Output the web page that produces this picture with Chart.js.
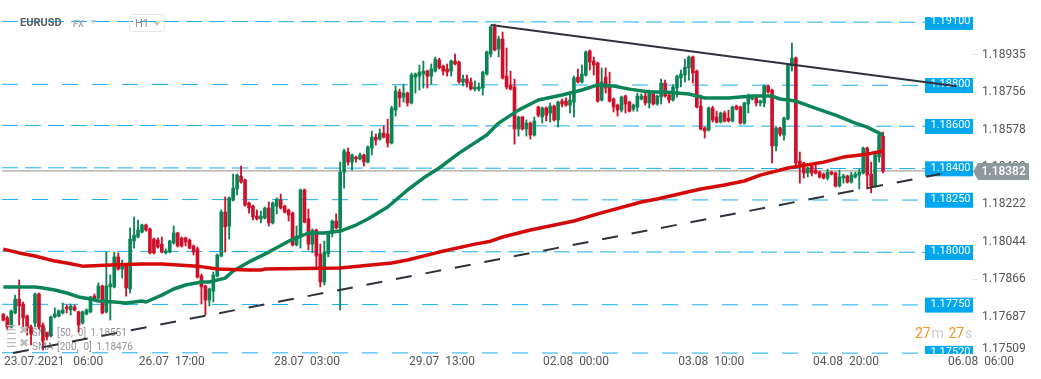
<!DOCTYPE html>
<html>
<head>
<meta charset="utf-8">
<title>EURUSD H1</title>
<script src="https://cdn.jsdelivr.net/npm/chart.js@4/dist/chart.umd.min.js"></script>
<style>
  html, body { margin: 0; padding: 0; background: #fff; }
  canvas { display: block; }
</style>
</head>
<body>
<canvas id="chart" width="1041" height="379"></canvas>
<script>
// hourly candles, left to right
const opens = [
  1.17700,1.17681,1.17638,1.17705,1.17771,1.17747,1.17690,1.17638,1.17657,1.17795,
  1.17647,1.17609,1.17595,1.17686,1.17690,1.17705,1.17733,1.17719,1.17733,1.17710,
  1.17657,1.17700,1.17710,1.17785,1.17776,1.17833,1.17710,1.17829,1.17829,1.17972,
  1.17914,1.17928,1.17819,1.18048,1.18067,1.18090,1.18124,1.18105,1.18057,1.18052,
  1.18033,1.17991,1.17995,1.18038,1.18086,1.18062,1.18062,1.18052,1.18024,1.18010,
  1.17881,1.17833,1.17766,1.17809,1.17881,1.17976,1.18186,1.18119,1.18243,1.18296,
  1.18357,1.18339,1.18229,1.18214,1.18167,1.18153,1.18157,1.18205,1.18134,1.18214,
  1.18243,1.18214,1.18196,1.18181,1.18029,1.18067,1.18291,1.18153,1.18033,1.18100,
  1.17986,1.17852,1.17986,1.18086,1.18143,1.18110,1.18376,1.18472,1.18424,1.18448,
  1.18439,1.18458,1.18424,1.18491,1.18543,1.18534,1.18562,1.18558,1.18515,1.18672,
  1.18758,1.18734,1.18753,1.18706,1.18829,1.18834,1.18844,1.18858,1.18834,1.18858,
  1.18911,1.18882,1.18868,1.18858,1.18906,1.18901,1.18806,1.18820,1.18806,1.18772,
  1.18772,1.18777,1.18844,1.18939,1.19068,1.18963,1.19011,1.18834,1.18792,1.18782,
  1.18582,1.18639,1.18582,1.18610,1.18553,1.18687,1.18639,1.18682,1.18658,1.18691,
  1.18625,1.18715,1.18715,1.18696,1.18710,1.18829,1.18806,1.18839,1.18954,1.18906,
  1.18896,1.18720,1.18829,1.18787,1.18725,1.18696,1.18672,1.18739,1.18710,1.18677,
  1.18687,1.18725,1.18739,1.18706,1.18749,1.18701,1.18734,1.18801,1.18744,1.18720,
  1.18777,1.18825,1.18839,1.18873,1.18925,1.18858,1.18691,1.18587,1.18577,1.18682,
  1.18639,1.18615,1.18658,1.18634,1.18620,1.18691,1.18687,1.18610,1.18701,1.18725,
  1.18730,1.18706,1.18706,1.18787,1.18768,1.18501,1.18587,1.18553,1.18629,1.18882,
  1.18920,1.18429,1.18420,1.18372,1.18405,1.18386,1.18376,1.18367,1.18348,1.18376,
  1.18372,1.18310,1.18348,1.18358,1.18329,1.18353,1.18362,1.18372,1.18491,1.18367,
  1.18310,1.18448,1.18548
];
const highs = [
  1.17700,1.17690,1.17719,1.17790,1.17862,1.17757,1.17695,1.17647,1.17800,1.17800,
  1.17657,1.17614,1.17690,1.17729,1.17719,1.17752,1.17743,1.17747,1.17743,1.17714,
  1.17714,1.17724,1.17785,1.17795,1.17848,1.17838,1.17995,1.17886,1.17995,1.17991,
  1.17957,1.17933,1.18110,1.18162,1.18148,1.18129,1.18129,1.18110,1.18062,1.18062,
  1.18067,1.18010,1.18052,1.18119,1.18090,1.18067,1.18067,1.18057,1.18029,1.18019,
  1.17890,1.17838,1.17824,1.17900,1.17986,1.18196,1.18258,1.18258,1.18367,1.18367,
  1.18405,1.18343,1.18234,1.18219,1.18196,1.18191,1.18210,1.18234,1.18234,1.18253,
  1.18272,1.18219,1.18200,1.18186,1.18119,1.18296,1.18296,1.18200,1.18105,1.18105,
  1.18033,1.18047,1.18090,1.18148,1.18177,1.18424,1.18486,1.18491,1.18462,1.18453,
  1.18467,1.18462,1.18501,1.18572,1.18558,1.18582,1.18596,1.18629,1.18691,1.18787,
  1.18772,1.18796,1.18758,1.18849,1.18849,1.18887,1.18906,1.18863,1.18892,1.18925,
  1.18920,1.18887,1.18892,1.18911,1.18939,1.18906,1.18839,1.18839,1.18825,1.18811,
  1.18801,1.18858,1.18954,1.19073,1.19082,1.19025,1.19044,1.18968,1.18858,1.18820,
  1.18643,1.18643,1.18625,1.18615,1.18639,1.18691,1.18687,1.18687,1.18706,1.18696,
  1.18715,1.18725,1.18730,1.18753,1.18834,1.18868,1.18887,1.18954,1.18959,1.18925,
  1.18901,1.18873,1.18873,1.18853,1.18730,1.18701,1.18739,1.18744,1.18715,1.18701,
  1.18753,1.18749,1.18753,1.18768,1.18763,1.18744,1.18820,1.18815,1.18749,1.18792,
  1.18839,1.18863,1.18915,1.18930,1.18930,1.18863,1.18744,1.18591,1.18687,1.18691,
  1.18667,1.18663,1.18667,1.18672,1.18691,1.18696,1.18691,1.18710,1.18749,1.18734,
  1.18734,1.18720,1.18792,1.18792,1.18772,1.18591,1.18591,1.18639,1.18892,1.18992,
  1.18925,1.18472,1.18424,1.18401,1.18410,1.18415,1.18381,1.18372,1.18391,1.18381,
  1.18376,1.18386,1.18367,1.18362,1.18376,1.18376,1.18391,1.18496,1.18496,1.18424,
  1.18462,1.18558,1.18567
];
const lows = [
  1.17666,1.17623,1.17633,1.17700,1.17647,1.17638,1.17599,1.17552,1.17638,1.17628,
  1.17528,1.17576,1.17590,1.17681,1.17686,1.17700,1.17705,1.17695,1.17714,1.17614,
  1.17652,1.17695,1.17705,1.17766,1.17771,1.17700,1.17705,1.17671,1.17824,1.17909,
  1.17871,1.17785,1.17800,1.18014,1.18062,1.18086,1.18095,1.17986,1.17986,1.18014,
  1.17991,1.17986,1.17991,1.18033,1.18019,1.18019,1.18024,1.18010,1.17981,1.17871,
  1.17747,1.17695,1.17738,1.17757,1.17876,1.17972,1.17995,1.18057,1.18238,1.18267,
  1.18324,1.18214,1.18181,1.18148,1.18148,1.18134,1.18153,1.18119,1.18129,1.18177,
  1.18200,1.18181,1.18143,1.18024,1.18024,1.18014,1.18134,1.18005,1.17991,1.17924,
  1.17829,1.17838,1.17972,1.18067,1.18105,1.17719,1.18300,1.18410,1.18386,1.18424,
  1.18434,1.18405,1.18420,1.18458,1.18505,1.18529,1.18539,1.18496,1.18510,1.18643,
  1.18687,1.18710,1.18691,1.18701,1.18753,1.18768,1.18777,1.18777,1.18796,1.18853,
  1.18868,1.18839,1.18834,1.18834,1.18887,1.18801,1.18787,1.18782,1.18768,1.18763,
  1.18763,1.18744,1.18839,1.18925,1.18954,1.18925,1.18820,1.18772,1.18768,1.18510,
  1.18548,1.18577,1.18548,1.18534,1.18548,1.18639,1.18610,1.18620,1.18615,1.18620,
  1.18591,1.18687,1.18691,1.18658,1.18639,1.18801,1.18801,1.18834,1.18863,1.18839,
  1.18710,1.18715,1.18753,1.18710,1.18663,1.18643,1.18663,1.18658,1.18663,1.18667,
  1.18667,1.18720,1.18696,1.18682,1.18696,1.18696,1.18701,1.18734,1.18706,1.18715,
  1.18734,1.18782,1.18806,1.18815,1.18801,1.18682,1.18577,1.18539,1.18572,1.18615,
  1.18610,1.18610,1.18615,1.18615,1.18615,1.18672,1.18605,1.18605,1.18658,1.18720,
  1.18691,1.18691,1.18687,1.18753,1.18420,1.18477,1.18548,1.18529,1.18625,1.18858,
  1.18410,1.18324,1.18348,1.18353,1.18358,1.18367,1.18348,1.18343,1.18339,1.18362,
  1.18305,1.18305,1.18324,1.18324,1.18324,1.18348,1.18296,1.18367,1.18296,1.18277,
  1.18305,1.18424,1.18372
];
const closes = [
  1.17671,1.17638,1.17714,1.17771,1.17738,1.17681,1.17633,1.17604,1.17795,1.17638,
  1.17571,1.17590,1.17686,1.17700,1.17714,1.17719,1.17724,1.17738,1.17719,1.17647,
  1.17710,1.17719,1.17781,1.17771,1.17833,1.17705,1.17833,1.17843,1.17972,1.17914,
  1.17928,1.17824,1.18057,1.18076,1.18100,1.18124,1.18100,1.17991,1.17991,1.18019,
  1.17995,1.18000,1.18048,1.18086,1.18024,1.18024,1.18043,1.18014,1.17995,1.17876,
  1.17829,1.17766,1.17819,1.17886,1.17981,1.18186,1.18115,1.18253,1.18300,1.18362,
  1.18329,1.18219,1.18205,1.18162,1.18153,1.18167,1.18205,1.18134,1.18229,1.18248,
  1.18205,1.18186,1.18172,1.18029,1.18071,1.18291,1.18138,1.18033,1.18100,1.17976,
  1.17852,1.17995,1.18086,1.18143,1.18110,1.18376,1.18477,1.18424,1.18458,1.18439,
  1.18458,1.18424,1.18496,1.18543,1.18529,1.18562,1.18543,1.18515,1.18682,1.18763,
  1.18730,1.18753,1.18706,1.18839,1.18844,1.18853,1.18858,1.18834,1.18868,1.18915,
  1.18873,1.18858,1.18853,1.18906,1.18892,1.18806,1.18820,1.18801,1.18772,1.18782,
  1.18782,1.18853,1.18949,1.19068,1.18959,1.19011,1.18825,1.18782,1.18772,1.18582,
  1.18639,1.18582,1.18610,1.18553,1.18620,1.18648,1.18682,1.18648,1.18691,1.18625,
  1.18710,1.18701,1.18696,1.18720,1.18825,1.18806,1.18844,1.18949,1.18901,1.18887,
  1.18715,1.18806,1.18777,1.18715,1.18687,1.18672,1.18734,1.18701,1.18667,1.18696,
  1.18739,1.18739,1.18706,1.18749,1.18701,1.18739,1.18801,1.18739,1.18720,1.18782,
  1.18834,1.18844,1.18877,1.18925,1.18849,1.18687,1.18582,1.18572,1.18682,1.18625,
  1.18615,1.18658,1.18620,1.18620,1.18687,1.18677,1.18610,1.18706,1.18730,1.18730,
  1.18706,1.18715,1.18787,1.18758,1.18501,1.18587,1.18558,1.18634,1.18887,1.18920,
  1.18420,1.18405,1.18372,1.18396,1.18372,1.18372,1.18353,1.18348,1.18376,1.18367,
  1.18310,1.18353,1.18358,1.18329,1.18362,1.18367,1.18376,1.18491,1.18362,1.18310,
  1.18458,1.18553,1.18381
];

// moving averages, read at the candle numbers in the index lists
const sma50Index = [0,3,8,10,13,16,19,22,24,28,31,35,36,40,43,46,50,52,56,58,62,67,72,77,81,85,89,92,97,102,106,110,115,122,125,130,135,141,146,150,154,158,163,167,173,177,183,189,194,196,200,204,210,215,218,222];
const sma50Values = [1.17829,1.17829,1.17829,1.17824,1.17814,1.17800,1.17781,1.17771,1.17762,1.17757,1.17752,1.17762,1.17757,1.17790,1.17819,1.17838,1.17852,1.17852,1.17871,1.17905,1.17948,1.17995,1.18047,1.18086,1.18086,1.18095,1.18124,1.18153,1.18210,1.18291,1.18348,1.18396,1.18467,1.18553,1.18610,1.18672,1.18720,1.18744,1.18768,1.18792,1.18787,1.18772,1.18758,1.18758,1.18749,1.18730,1.18730,1.18739,1.18739,1.18725,1.18715,1.18687,1.18648,1.18610,1.18591,1.18553];
const sma200Index = [0,4,8,13,16,20,27,35,40,44,49,54,62,65,66,85,98,102,110,119,123,126,133,144,150,161,165,176,182,187,191,198,207,212,218,222];
const sma200Values = [1.18009,1.17991,1.17976,1.17952,1.17943,1.17928,1.17933,1.17938,1.17938,1.17933,1.17928,1.17914,1.17909,1.17909,1.17914,1.17919,1.17943,1.17957,1.17995,1.18033,1.18047,1.18067,1.18100,1.18143,1.18177,1.18234,1.18248,1.18296,1.18315,1.18334,1.18362,1.18396,1.18424,1.18448,1.18462,1.18477];

// hand drawn levels: the text on the tag, then where the line really sits at each end
const levelLabels = ['1.19100','1.18800','1.18600','1.18400','1.18250','1.18000','1.17750','1.17520'];
const levelLeft = [1.19095,1.18795,1.18599,1.18397,1.18246,1.17999,1.17746,1.17515];
const levelRight = [1.19091,1.18790,1.18595,1.18393,1.18243,1.17994,1.17743,1.17513];

// trend lines, candle number and price at both ends
const resistanceIndex = [123,240.6];
const resistanceValues = [1.19078,1.18786];
const supportIndex = [2.45,236.4];
const supportValues = [1.17514,1.18367];

const lastPrice = 1.18382;
const priceTicks = [1.17687,1.17866,1.18044,1.18222,1.18400,1.18578,1.18756,1.18935];
const timeTicks = [0.2,34.2,68.3,102.4,136.2,170.3,204.3,238.4];
const timeLabels = ['23.07.2021   06:00','26.07  17:00','28.07  03:00','29.07  13:00','02.08  00:00','03.08  10:00','04.08  20:00','06.08  06:00'];

const GREEN = '#0b8555';
const RED = '#d0102a';
const BLUE = '#17aef0';
const INK = '#2e333b';
const FONT = 'Roboto';

const candleIdx = opens.map((_, i) => i);
const candleColors = opens.map((o, i) => (closes[i] >= o ? GREEN : RED));
const pairs = (xs, ys) => xs.map((x, i) => ({ x, y: ys[i] }));

// levels with a wide gap use the longer dash pattern
const wideGap = ['1.18800', '1.18250', '1.17750', '1.17520'];
const levelSets = levelLabels.map((label, i) => ({
  type: 'line',
  data: [{ x: -0.33, y: levelLeft[i] }, { x: 232.6, y: levelRight[i] }],
  borderColor: BLUE,
  borderWidth: 1,
  borderDash: wideGap.includes(label) ? [16, 14] : [16, 7],
  pointRadius: 0,
  order: 6
}));

// tags under the datasets, trend lines run over them in the original
const levelTags = {
  id: 'levelTags',
  beforeDatasetsDraw(chart) {
    const { ctx, chartArea, scales: { y } } = chart;
    ctx.save();
    ctx.beginPath();
    ctx.rect(chartArea.left, chartArea.top, chartArea.right, chartArea.bottom);
    ctx.clip();
    levelLabels.forEach((label, i) => {
      const py = y.getPixelForValue(levelRight[i]);
      const top = Math.max(py - 7.3, 17);
      ctx.fillStyle = '#02a7ef';
      ctx.fillRect(925, top, 48, py + 7.7 - top);
      ctx.fillStyle = '#fff';
      ctx.font = '11px ' + FONT;
      ctx.textAlign = 'left';
      ctx.textBaseline = 'middle';
      ctx.fillText(label, 930.5, py - 0.8);
    });
    ctx.restore();
  }
};

const overlays = {
  id: 'overlays',
  afterDraw(chart) {
    const { ctx } = chart;
    ctx.save();
    ctx.textBaseline = 'middle';
    ctx.textAlign = 'left';

    // instrument header
    ctx.font = 'bold 11px ' + FONT;
    ctx.fillStyle = '#565f66';
    ctx.fillText('EURUSD', 20, 23.5);
    ctx.font = 'bold 9px ' + FONT;
    ctx.fillStyle = '#a3b1ba';
    ctx.fillText('FX', 73, 24.5);
    ctx.fillStyle = '#c4c4c4';
    triangle(ctx, 90, 20, 96, 20, 93, 24);
    ctx.strokeStyle = '#e6e6e6';
    ctx.lineWidth = 1;
    ctx.beginPath();
    ctx.roundRect(129.5, 14.5, 35, 17, 3);
    ctx.stroke();
    ctx.font = '11px ' + FONT;
    ctx.fillStyle = '#8b8f92';
    ctx.fillText('H1', 135, 24);
    ctx.fillStyle = '#c4c4c4';
    triangle(ctx, 153.5, 22, 160, 22, 156.8, 26);

    // indicator legend
    ctx.font = '12px "DejaVu Sans"';
    ctx.fillStyle = '#bdbdbd';
    ctx.fillText('\u2630', 6, 331);
    ctx.fillText('\u2716', 19, 331);
    ctx.fillText('\u2630', 6, 344);
    ctx.fillText('\u2716', 19, 344);
    ctx.font = '10px ' + FONT;
    ctx.fillStyle = 'rgba(80,80,80,0.62)';
    ctx.fillText('SMA', 32, 333);
    ctx.fillText('[50,  0]', 57, 333);
    ctx.fillText('1.18551', 90.5, 333);
    ctx.fillText('SMA', 32, 347);
    ctx.fillText('[200,  0]', 57, 347);
    ctx.fillText('1.18476', 96.5, 347);

    // countdown
    ctx.font = '14px ' + FONT;
    ctx.fillStyle = '#f7941d';
    ctx.fillText('27', 915, 334);
    ctx.fillText('27', 948.5, 334);
    ctx.fillStyle = '#c9cccd';
    ctx.fillText('m', 931.5, 334);
    ctx.fillText('s', 965, 334);

    // lowest axis label gets pushed up inside the plot
    ctx.font = '12px ' + FONT;
    ctx.fillStyle = '#555';
    ctx.fillText('1.17509', 982, 349);

    // current price tag
    ctx.fillStyle = '#8e999d';
    ctx.beginPath();
    ctx.moveTo(973, 171.5);
    ctx.lineTo(978, 163);
    ctx.lineTo(1029, 163);
    ctx.lineTo(1029, 180);
    ctx.lineTo(978, 180);
    ctx.closePath();
    ctx.fill();
    ctx.font = '500 12px ' + FONT;
    ctx.fillStyle = '#fff';
    ctx.fillText(lastPrice.toFixed(5), 981.5, 172);
    ctx.restore();
  }
};

function triangle(ctx, x1, y1, x2, y2, x3, y3) {
  ctx.beginPath();
  ctx.moveTo(x1, y1);
  ctx.lineTo(x2, y2);
  ctx.lineTo(x3, y3);
  ctx.closePath();
  ctx.fill();
}

new Chart(document.getElementById('chart'), {
  type: 'bar',
  data: {
    datasets: [
      {
        type: 'line',
        data: pairs(resistanceIndex, resistanceValues),
        borderColor: INK,
        borderWidth: 2,
        pointRadius: 0,
        order: 0
      },
      {
        type: 'line',
        data: pairs(supportIndex, supportValues),
        borderColor: INK,
        borderWidth: 2,
        borderDash: [16, 14],
        pointRadius: 0,
        order: 0
      },
      {
        type: 'line',
        data: pairs(sma200Index, sma200Values),
        borderColor: '#d40a0a',
        borderWidth: 3.5,
        borderJoinStyle: 'round',
        pointRadius: 0,
        order: 1
      },
      {
        type: 'line',
        data: pairs(sma50Index, sma50Values),
        borderColor: '#0b8456',
        borderWidth: 3.5,
        borderJoinStyle: 'round',
        pointRadius: 0,
        order: 2
      },
      {
        // candle bodies
        data: candleIdx.map(i => ({ x: i, y: [opens[i], closes[i]] })),
        backgroundColor: candleColors,
        barThickness: 3,
        order: 3
      },
      {
        // wicks
        data: candleIdx.map(i => ({ x: i, y: [lows[i], highs[i]] })),
        backgroundColor: candleColors,
        barThickness: 1.2,
        order: 4
      },
      {
        type: 'line',
        data: [{ x: -0.33, y: lastPrice }, { x: 232.6, y: lastPrice }],
        borderColor: '#8f8f8f',
        borderWidth: 1,
        pointRadius: 0,
        order: 5
      },
      ...levelSets
    ]
  },
  options: {
    responsive: false,
    animation: false,
    layout: { padding: 0 },
    datasets: { bar: { grouped: false } },
    plugins: {
      legend: { display: false },
      tooltip: { enabled: false }
    },
    scales: {
      x: {
        type: 'linear',
        offset: false,
        min: -0.833,
        max: 244.7,
        grid: { display: false, offset: false, drawTicks: false },
        border: { display: false },
        afterBuildTicks: scale => {
          scale.ticks = timeTicks.map(value => ({ value }));
        },
        afterFit: scale => {
          scale.height = 25;
          scale.paddingLeft = 0;
          scale.paddingRight = 0;
        },
        ticks: {
          autoSkip: false,
          maxRotation: 0,
          align: 'start',
          padding: 1,
          color: '#555',
          font: { family: FONT, size: 12 },
          callback: (value, i) => timeLabels[i]
        }
      },
      y: {
        position: 'right',
        min: 1.17509,
        max: 1.19197,
        grid: { drawOnChartArea: false, tickLength: 5, color: '#e8e8e8' },
        border: { display: false },
        afterBuildTicks: scale => {
          scale.ticks = priceTicks.map(value => ({ value }));
        },
        afterFit: scale => {
          scale.width = 68;
          // the tick labels may not eat into the plot height
          scale.paddingTop = 0;
          scale.paddingBottom = 0;
        },
        ticks: {
          padding: 4,
          color: '#555',
          font: { family: FONT, size: 12 },
          callback: value => value.toFixed(5)
        }
      }
    }
  },
  plugins: [levelTags, overlays]
});
</script>
</body>
</html>
